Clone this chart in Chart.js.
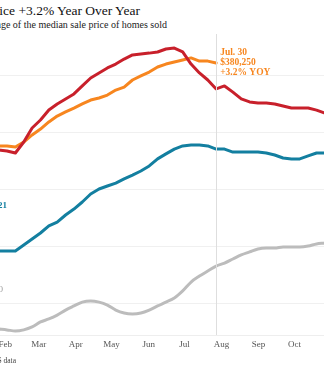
<!DOCTYPE html>
<html lang="en">
<head>
  <meta charset="UTF-8">
  <title>Median Sale Price</title>
  <script src="https://cdn.jsdelivr.net/npm/chart.js"></script>
  <style>
    html, body {
      margin: 0;
      padding: 0;
      width: 324px;
      height: 373px;
      overflow: hidden;
      background: #fff;
      font-family: 'Liberation Serif', 'Times New Roman', serif;
    }
    .title {
      position: absolute;
      right: 184px;
      top: 3px;
      font-size: 13.5px;
      color: #111;
      white-space: nowrap;
    }
    .subtitle {
      position: absolute;
      right: 157px;
      top: 19px;
      font-size: 10px;
      color: #222;
      white-space: nowrap;
    }
    .note {
      position: absolute;
      right: 308px;
      top: 356px;
      font-size: 7.5px;
      color: #444;
      white-space: nowrap;
    }
    .year {
      position: absolute;
      font-size: 9px;
      white-space: nowrap;
    }
    #wrap {
      position: absolute;
      left: 0;
      top: 0;
      width: 480px;
      height: 380px;
    }
  </style>
</head>
<body>
  <div class="title">Median Sale Price +3.2% Year Over Year</div>
  <div class="subtitle">Rolling average of the median sale price of homes sold</div>
  <div id="wrap"><canvas id="priceChart"></canvas></div>
  <div class="year" style="right:317px; top:200px; color:#137fa0; font-weight:bold;">2021</div>
  <div class="year" style="right:321px; top:284px; color:#9a9a9a;">2020</div>
  <div class="note">Source: MLS data</div>

  <script>
    // day of year for each weekly reading
    const days = [29, 36, 43, 50, 57, 64, 71, 78, 85, 92, 99, 106, 113, 120, 127, 134, 141,
      148, 155, 162, 169, 176, 183, 190, 197, 204, 211, 218, 225, 232, 239, 246, 253, 260,
      267, 274, 281, 288, 295, 302, 309];

    const price2020 = [263600, 263200, 262700, 263200, 264500, 266700, 268000, 269700, 271900,
      273700, 275400, 275900, 275400, 274100, 271900, 270600, 270200, 270600, 271900, 273700,
      275400, 277200, 280300, 284200, 286800, 289000, 291200, 292500, 294300, 296100, 297400,
      298700, 299100, 299100, 299600, 299600, 299600, 300000, 300900, 301300, 301800];

    const price2021 = [297800, 297800, 297800, 300400, 303100, 305700, 308800, 310500, 313600,
      316200, 319300, 322800, 325000, 326300, 327600, 329400, 331100, 332900, 335100, 338200,
      340400, 342500, 343900, 344300, 344300, 343900, 342500, 342500, 341200, 341200, 341200,
      341200, 340800, 339900, 338600, 338200, 338200, 339500, 340800, 340800, 341200];

    const price2022 = [342100, 341700, 340800, 345600, 351750, 355250, 359650, 362300, 364500,
      366700, 370200, 373700, 375900, 378100, 379800, 382000, 383800, 384200, 384600, 385100,
      386400, 386800, 385100, 379800, 375900, 372800, 368900, 370200, 367500, 364500, 363200,
      362700, 362700, 362300, 361400, 360500, 360500, 360500, 359600, 358300, 357000];

    // 2023 runs through Jul. 30
    const price2023 = [343900, 343900, 343400, 345600, 348700, 351300, 354400, 357000, 358800,
      360500, 362300, 364000, 364900, 366200, 368400, 369700, 372800, 374600, 376300, 378500,
      379800, 380700, 381600, 382500, 381100, 381100, 380250];

    const monthStarts = [1, 32, 60, 91, 121, 152, 182, 213, 244, 274, 305, 335];
    const monthLabels = ['Jan', 'Feb', 'Mar', 'Apr', 'May', 'Jun', 'Jul', 'Aug', 'Sep', 'Oct', 'Nov', 'Dec'];
    const gridValues = [275000, 300000, 325000, 350000, 375000];

    const latestDay = 211;
    const latestNote = ['Jul. 30', '$380,250', '+3.2% YOY'];

    const PX_PER_DAY = 1.195;
    const PX_PER_DOLLAR = 57 / 25000;
    const PLOT_TOP = 34, PLOT_BOTTOM = 335, DAY0_X = -36.1, REF_Y = 75, REF_VALUE = 375000;

    const serif = "'Liberation Serif', 'Times New Roman', serif";
    const orange = '#f7861f';

    function pts(values) {
      return values.map((v, i) => ({ x: days[i], y: v }));
    }

    const markerPlugin = {
      id: 'marker',
      afterDatasetsDraw(chart) {
        const { ctx, chartArea, scales } = chart;
        const x = scales.x.getPixelForValue(latestDay);
        const y = scales.y.getPixelForValue(price2023[price2023.length - 1]);
        ctx.save();
        ctx.strokeStyle = '#dedede';
        ctx.lineWidth = 1;
        ctx.beginPath();
        ctx.moveTo(Math.round(x) + 0.5, chartArea.top);
        ctx.lineTo(Math.round(x) + 0.5, chartArea.bottom);
        ctx.stroke();
        ctx.fillStyle = orange;
        ctx.font = 'bold 9.5px ' + serif;
        ctx.textAlign = 'left';
        ctx.textBaseline = 'middle';
        latestNote.forEach((t, i) => ctx.fillText(t, x + 4, y + (i - 1) * 10));
        ctx.restore();
      }
    };

    const ctx = document.getElementById('priceChart').getContext('2d');
    const chart = new Chart(ctx, {
      type: 'line',
      data: {
        datasets: [
          { label: '2020', data: pts(price2020), borderColor: '#bcbcbc', borderWidth: 3,
            cubicInterpolationMode: 'monotone' },
          { label: '2021', data: pts(price2021), borderColor: '#137fa0', borderWidth: 3 },
          { label: '2022', data: pts(price2022), borderColor: '#c8202b', borderWidth: 3 },
          { label: '2023', data: pts(price2023), borderColor: orange, borderWidth: 3 }
        ]
      },
      options: {
        responsive: true,
        maintainAspectRatio: false,
        animation: false,
        layout: { padding: { left: 24, right: 24, top: 34, bottom: 0 } },
        elements: {
          point: { radius: 0 },
          line: { tension: 0, borderCapStyle: 'round', borderJoinStyle: 'round' }
        },
        plugins: {
          legend: { display: false },
          tooltip: { enabled: false }
        },
        scales: {
          x: {
            type: 'linear',
            min: 0,
            max: 360,
            grid: { display: false, drawTicks: false },
            border: { display: true, color: '#eeeeee' },
            afterBuildTicks: (scale) => {
              scale.ticks = monthStarts
                .filter(v => v >= scale.min && v <= scale.max)
                .map(v => ({ value: v }));
            },
            ticks: {
              autoSkip: false,
              maxRotation: 0,
              padding: 4,
              labelOffset: 3,
              color: '#555',
              font: { family: serif, size: 9 },
              callback: (v) => monthLabels[monthStarts.indexOf(v)]
            }
          },
          y: {
            min: 261000,
            max: 393000,
            grid: { color: 'rgba(0,0,0,0.06)', drawTicks: false },
            border: { display: false },
            afterBuildTicks: (scale) => {
              scale.ticks = gridValues.map(v => ({ value: v }));
            },
            ticks: { display: false }
          }
        }
      },
      plugins: [markerPlugin]
    });

    // shrink the plot from below so it is exactly PLOT_BOTTOM - PLOT_TOP tall
    let area = chart.chartArea;
    chart.options.layout.padding.bottom += area.height - (PLOT_BOTTOM - PLOT_TOP);
    chart.update();
    area = chart.chartArea;

    // then fit the value ranges to the fixed pixel scale
    chart.options.scales.x.min = 0;
    chart.options.scales.x.max = area.width / PX_PER_DAY;
    const yMax = REF_VALUE + (REF_Y - PLOT_TOP) / PX_PER_DOLLAR;
    chart.options.scales.y.max = yMax;
    chart.options.scales.y.min = yMax - area.height / PX_PER_DOLLAR;
    chart.update();

    area = chart.chartArea;
    const wrap = document.getElementById('wrap');
    wrap.style.left = (DAY0_X - area.left) + 'px';
    wrap.style.top = (PLOT_TOP - area.top) + 'px';
  </script>
</body>
</html>
